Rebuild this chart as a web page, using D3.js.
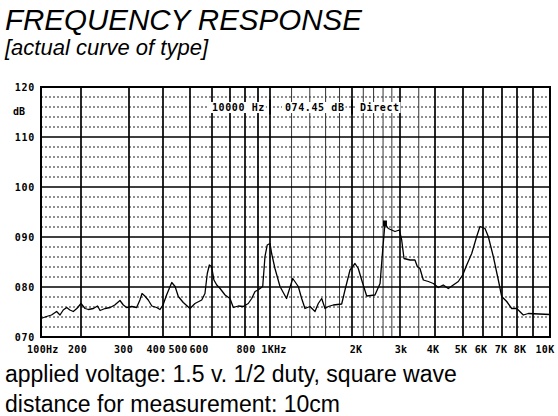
<!DOCTYPE html>
<html>
<head>
<meta charset="utf-8">
<script src="https://cdn.jsdelivr.net/npm/d3@7"></script>
<style>
  body { margin: 0; background: #fff; }
  svg { display: block; }
</style>
</head>
<body>
<div id="chart"></div>
<script>
// curve: frequency (Hz) and level (dB)
const freqHz = [100, 110, 120, 131, 139, 147, 156, 165, 175, 186, 200, 207, 213, 222, 230, 235, 245, 256, 266, 278,
  286, 294, 307, 320, 329, 335, 343, 353, 364, 379, 390, 400, 412, 430, 442, 454, 473, 500, 521, 551,
  566, 577, 587, 598, 610, 625, 643, 671, 700, 721, 754, 788, 824, 850, 876, 900, 938, 957, 976, 1000,
  1014, 1043, 1088, 1150, 1212, 1270, 1307, 1344, 1402, 1463, 1504, 1548, 1592, 1637, 1707, 1833, 1885, 1967, 2051, 2109,
  2170, 2264, 2428, 2535, 2592, 2642, 2717, 2876, 2984, 3042, 3100, 3257, 3392, 3459, 3535, 3634, 3787, 3945, 4107, 4272,
  4447, 4628, 4816, 4988, 5172, 5414, 5665, 5838, 6098, 6263, 6523, 6794, 6983, 7299, 7630, 7980, 8380, 8697, 10000];
const levelDb = [73.7, 74.1, 74.4, 75.1, 74.4, 75.4, 75.9, 75.4, 75.1, 75.7, 76.7, 75.7, 75.5, 75.7, 76.2, 75.3, 75.7, 75.9, 76.4, 77.3,
  76.4, 75.9, 76.1, 75.9, 77.4, 78.7, 78.2, 77.4, 76.2, 75.9, 75.5, 76.4, 78.4, 80.9, 80.1, 78.1, 76.9, 75.7, 76.7, 77.4,
  78.7, 82.7, 84.4, 84.1, 81.4, 80.4, 79.7, 78.4, 77.7, 75.9, 76.2, 76.1, 76.7, 77.7, 79.1, 79.4, 80.1, 86.1, 88.4, 88.7,
  86.7, 83.7, 80.1, 77.7, 81.7, 80.1, 77.7, 75.7, 76.1, 75.1, 76.7, 77.7, 75.7, 76.1, 76.4, 76.6, 79.4, 83.4, 84.7, 83.7,
  81.4, 78.2, 78.4, 80.7, 87.4, 92.7, 91.7, 91.1, 91.4, 89.4, 85.7, 85.4, 85.4, 84.1, 83.7, 81.4, 81.1, 80.7, 79.9, 80.4,
  79.7, 80.4, 81.1, 82.4, 84.4, 86.7, 90.1, 92.1, 91.7, 90.1, 86.1, 81.4, 78.1, 77.1, 75.7, 75.7, 74.4, 74.7, 74.5];

const majorFreqs = [100, 200, 300, 400, 500, 600, 700, 800, 900, 1000, 2000, 3000, 4000, 5000, 6000, 7000, 8000, 9000, 10000];
const minorFreqs = [1200, 1400, 1600, 1800, 2200, 2400, 2600, 2800, 3500];
const tickFreqs = [100, 200, 300, 400, 500, 600, 800, 1000, 2000, 3000, 4000, 5000, 6000, 7000, 8000, 10000];
const tickLabels = ["100Hz", "200", "300", "400", "500", "600", "800", "1KHz", "2K", "3k", "4K", "5K", "6K", "7K", "8K", "10K"];
const dbTicks = [120, 110, 100, 90, 80, 70];
const dbLabels = ["120", "110", "100", "090", "080", "070"];
const cursorFreq = 2642, cursorDb = 92.7;

const width = 558, height = 416;
const svg = d3.select('#chart').append('svg')
  .attr('width', width).attr('height', height)
  .style('background', '#fff');

// chart paper is not a clean log grid, so the scale is piecewise over the printed lines
const x = d3.scaleLog()
  .domain(majorFreqs)
  .range([41, 81, 129, 163, 190, 212, 230, 245, 258, 270, 352, 400, 435, 463, 483, 502, 517, 533, 550]);
const y = d3.scaleLinear().domain([70, 120]).range([337, 87]);

const mono = "'DejaVu Sans Mono', monospace";
const sans = "'Liberation Sans', Arial, sans-serif";

// titles
svg.append('text').attr('x', 5).attr('y', 30)
  .style('font-family', sans).style('font-style', 'italic').style('font-size', '29.5px')
  .text('FREQUENCY RESPONSE');
svg.append('text').attr('x', 5).attr('y', 55)
  .style('font-family', sans).style('font-style', 'italic').style('font-size', '22px')
  .text('[actual curve of type]');

const grid = svg.append('g');

// dotted 2 dB lines
grid.selectAll('.dot')
  .data(d3.range(72, 120, 2).filter(d => d % 10 !== 0))
  .join('line')
  .attr('x1', x(100)).attr('x2', x(10000))
  .attr('y1', d => y(d)).attr('y2', d => y(d))
  .attr('stroke', '#222').attr('stroke-width', 1)
  .attr('stroke-dasharray', '2,2');

// minor verticals
grid.selectAll('.minor')
  .data(minorFreqs)
  .join('line')
  .attr('x1', d => x(d)).attr('x2', d => x(d))
  .attr('y1', y(120)).attr('y2', y(70))
  .attr('stroke', '#333').attr('stroke-width', 1);

// major verticals
grid.selectAll('.major')
  .data(majorFreqs)
  .join('line')
  .attr('x1', d => x(d)).attr('x2', d => x(d))
  .attr('y1', y(120)).attr('y2', y(70))
  .attr('stroke', '#000').attr('stroke-width', 1.7);

// solid 10 dB lines
grid.selectAll('.hmajor')
  .data(dbTicks)
  .join('line')
  .attr('x1', x(100)).attr('x2', x(10000))
  .attr('y1', d => y(d)).attr('y2', d => y(d))
  .attr('stroke', '#000').attr('stroke-width', 1.7);

// readout box
const readout = [
  { t: '10000 Hz', x0: 212 },
  { t: '074.45 dB', x0: 285 },
  { t: 'Direct', x0: 360 }
];
const ro = svg.append('g');
ro.selectAll('rect')
  .data(readout)
  .join('rect')
  .attr('x', d => d.x0 - 3).attr('y', y(116) - 5)
  .attr('width', d => d.t.length * 6.6 + 4).attr('height', 11)
  .attr('fill', '#fff');
ro.selectAll('text')
  .data(readout)
  .join('text')
  .attr('x', d => d.x0).attr('y', y(116))
  .attr('dy', '0.35em')
  .style('font-family', mono).style('font-weight', 'bold')
  .style('font-size', '10px').style('letter-spacing', '0.6px')
  .text(d => d.t);
ro.selectAll('line')
  .data([1000, 2000])
  .join('line')
  .attr('x1', d => x(d)).attr('x2', d => x(d))
  .attr('y1', y(117.5)).attr('y2', y(114.5))
  .attr('stroke', '#000').attr('stroke-width', 1.7);

// frame
svg.append('rect')
  .attr('x', x(100)).attr('y', y(120))
  .attr('width', x(10000) - x(100)).attr('height', y(70) - y(120))
  .attr('fill', 'none').attr('stroke', '#000').attr('stroke-width', 2);

// response curve
const line = d3.line()
  .x((d, i) => x(freqHz[i]))
  .y(d => y(d));
svg.append('path')
  .datum(levelDb)
  .attr('d', line)
  .attr('fill', 'none')
  .attr('stroke', '#000')
  .attr('stroke-width', 1.3)
  .attr('stroke-linejoin', 'round');

svg.append('rect')
  .attr('x', x(cursorFreq) - 2).attr('y', y(cursorDb) - 3)
  .attr('width', 4).attr('height', 6)
  .attr('fill', '#000');

// y labels
svg.append('g').selectAll('text')
  .data(dbTicks)
  .join('text')
  .attr('x', 35).attr('y', d => y(d))
  .attr('dy', '0.35em')
  .attr('text-anchor', 'end')
  .style('font-family', mono).style('font-weight', 'bold')
  .style('font-size', '10px').style('letter-spacing', '0.7px')
  .text((d, i) => dbLabels[i]);
svg.append('text')
  .attr('x', 13).attr('y', y(120) + 24)
  .attr('dy', '0.35em')
  .style('font-family', mono).style('font-weight', 'bold')
  .style('font-size', '10px')
  .text('dB');

// x labels, typed slightly off the lines on the original sheet
const nudge = [-14, -3.5, -5.5, -7, -12, -13, 1, 4, 4, 1, -2, -2, -2, -1, 3, -5];
svg.append('g').selectAll('text')
  .data(tickFreqs)
  .join('text')
  .attr('x', (d, i) => x(d) + nudge[i])
  .attr('y', 353)
  .attr('text-anchor', (d, i) => i === 0 ? 'start' : 'middle')
  .style('font-family', mono).style('font-weight', 'bold')
  .style('font-size', '10px').style('letter-spacing', '0.3px')
  .text((d, i) => tickLabels[i]);

// notes
svg.append('text').attr('x', 5).attr('y', 382)
  .style('font-family', sans).style('font-size', '23px')
  .text('applied voltage: 1.5 v. 1/2 duty, square wave');
svg.append('text').attr('x', 5).attr('y', 412)
  .style('font-family', sans).style('font-size', '23px')
  .text('distance for measurement: 10cm');
</script>
</body>
</html>
